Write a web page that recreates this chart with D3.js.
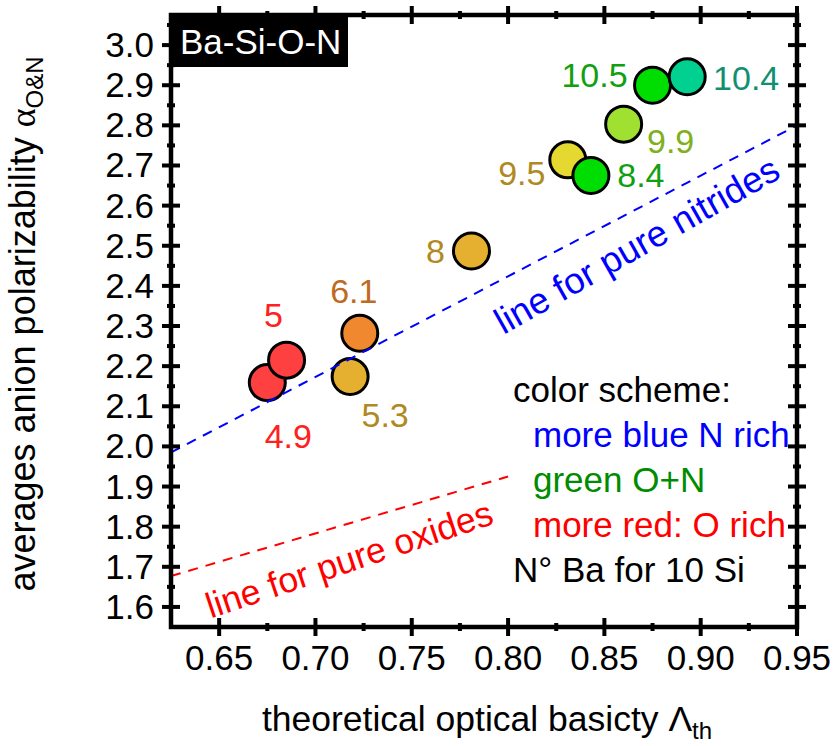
<!DOCTYPE html>
<html><head><meta charset="utf-8">
<script src="https://cdn.jsdelivr.net/npm/d3@7"></script>
<style>body{margin:0;background:#fff}svg{display:block}text{font-family:"Liberation Sans",Arial,sans-serif}</style>
</head><body><svg id="c" width="836" height="746"></svg>
<script>
// ---- data ----
const labels = ["4.9","5","6.1","5.3","8","9.5","8.4","9.9","10.5","10.4"];
const basicity = [0.675,0.685,0.723,0.718,0.781,0.831,0.843,0.860,0.875,0.893];
const polarizability = [2.159,2.215,2.282,2.174,2.487,2.714,2.675,2.803,2.900,2.921];
const fillColors = ["#ff4040","#ff4040","#f08830","#e5b030","#e5b030","#e5d830","#00dd00","#a0e030","#00dd00","#00d090"];
const labelColors = ["#ff2020","#ff2020","#c06a20","#b08a20","#b08a20","#b08a20","#10a010","#80b020","#10a010","#109070"];
const nitrideLineX = [0.625,0.95], nitrideLineY = [1.985,2.80];
const oxideLineX = [0.625,0.80], oxideLineY = [1.677,1.925];
const xTicks = [0.65,0.70,0.75,0.80,0.85,0.90,0.95];
const xMinor = [0.675,0.725,0.775,0.825,0.875,0.925];
const yTicks = [1.6,1.7,1.8,1.9,2.0,2.1,2.2,2.3,2.4,2.5,2.6,2.7,2.8,2.9,3.0];
const yMinor = [1.65,1.75,1.85,1.95,2.05,2.15,2.25,2.35,2.45,2.55,2.65,2.75,2.85,2.95,3.05];
const legendLines = ["color scheme:","more blue N rich","green O+N","more red: O rich","N° Ba for 10 Si"];
const legendColors = ["#000","#0000ff","#008c00","#ff0000","#000"];
const legendIndent = [0,1,1,1,0];
// label offsets (px) relative to each point
const labelDx = [21,-13,-6,35,-36,-46,50,47,-58,59];
const labelDy = [65,-33,-30,50,12,25,11,29,2,13];

const svg = d3.select("#c");
const L=171,R=797,T=15,B=627;
const x = d3.scaleLinear().domain([0.625,0.95]).range([L,R]);
const y = d3.scaleLinear().domain([1.55,3.075]).range([B,T]);

// points
const idx = d3.range(labels.length);
svg.append("g").selectAll("circle").data(idx).join("circle")
  .attr("cx",i=>x(basicity[i])).attr("cy",i=>y(polarizability[i])).attr("r",18)
  .attr("fill",i=>fillColors[i]).attr("stroke","#000").attr("stroke-width",3);
svg.append("g").selectAll("text").data(idx).join("text")
  .attr("x",i=>x(basicity[i])+labelDx[i]).attr("y",i=>y(polarizability[i])+labelDy[i])
  .attr("text-anchor","middle").attr("font-size",34).attr("fill",i=>labelColors[i]).text(i=>labels[i]);

// dashed lines
const line = d3.line().x(d=>x(d[0])).y(d=>y(d[1]));
svg.append("path").attr("d",line(d3.zip(nitrideLineX,nitrideLineY))).attr("fill","none")
  .attr("stroke","#0000ff").attr("stroke-width",2).attr("stroke-dasharray","10,8");
svg.append("path").attr("d",line(d3.zip(oxideLineX,oxideLineY))).attr("fill","none")
  .attr("stroke","#ff0000").attr("stroke-width",2).attr("stroke-dasharray","10,8");

svg.append("text").attr("transform","translate(643,256) rotate(-29.5)").attr("text-anchor","middle")
  .attr("font-size",36.5).attr("fill","#0000ff").text("line for pure nitrides");
svg.append("text").attr("transform","translate(353,571) rotate(-18.5)").attr("text-anchor","middle")
  .attr("font-size",35.5).attr("fill","#ff0000").text("line for pure oxides");

// legend
svg.append("g").selectAll("text").data(legendLines).join("text")
  .attr("x",(d,i)=>513+legendIndent[i]*20).attr("y",(d,i)=>402+i*45)
  .attr("font-size",35).attr("fill",(d,i)=>legendColors[i]).text(d=>d);

// title box
svg.append("rect").attr("x",173).attr("y",15).attr("width",175).attr("height",52).attr("fill","#000");
svg.append("text").attr("x",180).attr("y",54).attr("font-size",35).attr("fill","#fff").text("Ba-Si-O-N");

// frame
svg.append("rect").attr("x",L).attr("y",T).attr("width",R-L).attr("height",B-T)
  .attr("fill","none").attr("stroke","#000").attr("stroke-width",4.5);

// ticks
const tk = svg.append("g").attr("stroke","#000").attr("stroke-width",4);
xTicks.forEach(v=>{[B,T].forEach(yy=>tk.append("line").attr("x1",x(v)).attr("x2",x(v)).attr("y1",yy-9).attr("y2",yy+9));});
xMinor.forEach(v=>{[B,T].forEach(yy=>tk.append("line").attr("x1",x(v)).attr("x2",x(v)).attr("y1",yy-4).attr("y2",yy+4));});
yTicks.forEach(v=>{[L,R].forEach(xx=>tk.append("line").attr("y1",y(v)).attr("y2",y(v)).attr("x1",xx-9).attr("x2",xx+9));});
yMinor.forEach(v=>{[L,R].forEach(xx=>tk.append("line").attr("y1",y(v)).attr("y2",y(v)).attr("x1",xx-4).attr("x2",xx+4));});

// tick labels
svg.append("g").selectAll("text").data(xTicks).join("text")
  .attr("x",d=>x(d)).attr("y",670).attr("text-anchor","middle").attr("font-size",35).text(d=>d3.format(".2f")(d));
svg.append("g").selectAll("text").data(yTicks).join("text")
  .attr("x",154).attr("y",d=>y(d)+12).attr("text-anchor","end").attr("font-size",35).text(d=>d3.format(".1f")(d));

// axis titles
const xt = svg.append("text").attr("x",487).attr("y",731).attr("text-anchor","middle").attr("font-size",35.5);
xt.append("tspan").text("theoretical optical basicty ");
xt.append("tspan").text("Λ");
xt.append("tspan").attr("font-size",24).attr("dy",8).text("th");
const yt = svg.append("text").attr("transform","translate(35,324) rotate(-90)").attr("text-anchor","middle").attr("font-size",36);
yt.append("tspan").text("averages anion polarizability ");
yt.append("tspan").attr("font-family","'Liberation Serif',serif").text("α");
yt.append("tspan").attr("font-size",24).attr("dy",8).text("O&N");
</script></body></html>
